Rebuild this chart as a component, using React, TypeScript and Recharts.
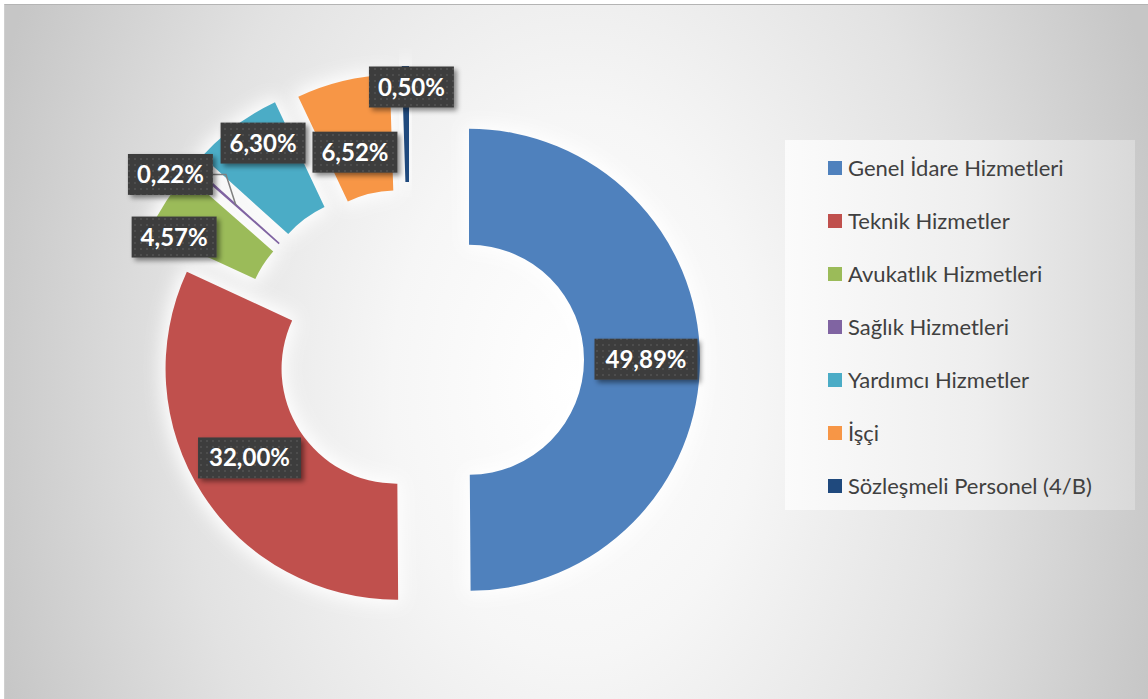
import React from 'react';
import { PieChart, Pie, Cell, Legend, Sector } from 'recharts';

const categories = [
  'Genel İdare Hizmetleri',
  'Teknik Hizmetler',
  'Avukatlık Hizmetleri',
  'Sağlık Hizmetleri',
  'Yardımcı Hizmetler',
  'İşçi',
  'Sözleşmeli Personel (4/B)',
];
const shares = [49.89, 32.0, 4.57, 0.22, 6.3, 6.52, 0.5];

// styling per slice (Excel theme colours, explosion and label placement)
const colors = ['#4F81BD', '#C0504D', '#9BBB59', '#8064A2', '#4BACC6', '#F79646', '#1F497D'];
const explode = [59, 16, 60, 60, 61, 56, 63];
const labelDist = [236, 188, 266, 303, 262, 215, 273];
const labelTurn = [0, 1.4, -5.5, -3.9, 2.5, -1.3, 1.2];
const leaderFor = [3];

const RAD = Math.PI / 180;
const fmt = (v: number) => v.toFixed(2).replace('.', ',') + '%';

const data = categories.map((name, i) => ({ name, value: shares[i] }));

const idxOf = (props: any) => {
  if (typeof props.index === 'number') return props.index;
  const n = props.name ?? props.payload?.name;
  return Math.max(0, categories.indexOf(n));
};

const ExplodedSector = (props: any) => {
  const i = idxOf(props);
  const d = explode[i] ?? 0;
  const a = props.midAngle * RAD;
  return (
    <Sector
      cx={props.cx + d * Math.cos(a)}
      cy={props.cy - d * Math.sin(a)}
      innerRadius={props.innerRadius}
      outerRadius={props.outerRadius}
      startAngle={props.startAngle}
      endAngle={props.endAngle}
      fill={props.fill}
      stroke="none"
    />
  );
};

// white halo drawn under the coloured slices
const GlowSector = (props: any) => {
  const i = idxOf(props);
  const d = explode[i] ?? 0;
  const a = props.midAngle * RAD;
  return (
    <Sector
      cx={props.cx + d * Math.cos(a)}
      cy={props.cy - d * Math.sin(a)}
      innerRadius={props.innerRadius}
      outerRadius={props.outerRadius}
      startAngle={props.startAngle}
      endAngle={props.endAngle}
      fill="#ffffff"
      stroke="none"
      filter="url(#softGlow)"
    />
  );
};

const renderLabel = (props: any) => {
  const { cx, cy, midAngle, innerRadius, outerRadius } = props;
  const i = idxOf(props);
  const a = (midAngle - labelTurn[i]) * RAD;
  const x = cx + labelDist[i] * Math.cos(a);
  const y = cy - labelDist[i] * Math.sin(a);
  const text = fmt(shares[i]);
  const w = text.length * 18 - 5;
  const h = 41;
  let leader = null;
  if (leaderFor.includes(i)) {
    const m = (innerRadius + outerRadius) / 2 + explode[i];
    const ma = midAngle * RAD;
    const tx = cx + m * Math.cos(ma);
    const ty = cy - m * Math.sin(ma);
    const sx = x + w / 2;
    leader = (
      <polyline
        points={`${sx},${y} ${sx + 13},${y} ${tx},${ty}`}
        fill="none"
        stroke="#7f7f7f"
        strokeWidth={1.5}
      />
    );
  }
  return (
    <g key={`lbl-${i}`}>
      {leader}
      <rect x={x - w / 2} y={y - h / 2} width={w} height={h} fill="url(#dotFill)" filter="url(#lblShadow)" />
      <text
        x={x}
        y={y + 8.5}
        textAnchor="middle"
        fill="#ffffff"
        fontSize={24}
        fontWeight={700}
        fontFamily="Lato, 'Open Sans', sans-serif"
      >
        {text}
      </text>
    </g>
  );
};

const renderLegend = ({ payload }: any) => {
  const list = payload || [];
  // one entry per category, in data order (the halo pie adds unnamed duplicates)
  const items = categories
    .map((c) => list.filter((e: any) => e.value === c && e.type !== 'none').pop())
    .filter(Boolean);
  return (
    <div
      style={{
        width: 350,
        height: 370,
        boxSizing: 'border-box',
        paddingLeft: 43,
        paddingTop: 1,
        background: 'linear-gradient(90deg, #fbfbfb 0%, #eeeeee 55%, #d9d9d9 100%)',
      }}
    >
      {items.map((entry: any) => (
        <div key={entry.value} style={{ display: 'flex', alignItems: 'center', height: 53 }}>
          <span style={{ width: 14, height: 14, background: entry.color, marginRight: 6, flexShrink: 0 }} />
          <span
            style={{
              fontSize: 22,
              color: '#404040',
              fontFamily: "Lato, 'Open Sans', sans-serif",
              whiteSpace: 'nowrap',
            }}
          >
            {entry.value}
          </span>
        </div>
      ))}
    </div>
  );
};

export default function App() {
  return (
    <div style={{ position: 'absolute', left: 0, top: 0, width: 1148, height: 699, background: '#ffffff' }}>
      <div
        style={{
          position: 'absolute',
          left: 4,
          top: 4,
          width: 1144,
          height: 695,
          boxSizing: 'border-box',
          borderTop: '1px solid #b4b4b4',
          borderLeft: '1px solid #cfcfcf',
          background:
            'radial-gradient(ellipse 610px 900px at 570px 380px, #ffffff 0%, #f6f6f6 30%, #e2e2e2 65%, #c6c6c6 100%)',
        }}
      />
      <div style={{ position: 'absolute', left: 0, top: 0 }}>
        <PieChart width={1148} height={699} margin={{ top: 0, right: 0, bottom: 0, left: 0 }}>
          <defs>
            <filter id="softGlow" x="-30%" y="-30%" width="160%" height="160%">
              <feMorphology in="SourceGraphic" operator="dilate" radius="4" result="dil" />
              <feGaussianBlur in="dil" stdDeviation="9" />
            </filter>
            <filter id="lblShadow" x="-20%" y="-30%" width="150%" height="170%">
              <feDropShadow dx="3" dy="3" stdDeviation="2.5" floodColor="#000000" floodOpacity="0.45" />
            </filter>
            <pattern id="dotFill" width="6" height="6" patternUnits="userSpaceOnUse">
              <rect width="6" height="6" fill="#3e3e3e" />
              <rect x="2" y="2" width="2" height="2" fill="#4d4d4d" />
            </pattern>
          </defs>
          <Pie
            data={data}
            dataKey="value"
            nameKey="name"
            cx={410}
            cy={360}
            innerRadius={115}
            outerRadius={231}
            startAngle={90}
            endAngle={-270}
            stroke="none"
            legendType="none"
            shape={GlowSector}
            isAnimationActive={false}
          />
          <Pie
            data={data}
            dataKey="value"
            nameKey="name"
            cx={410}
            cy={360}
            innerRadius={115}
            outerRadius={231}
            startAngle={90}
            endAngle={-270}
            stroke="none"
            shape={ExplodedSector}
            label={renderLabel}
            labelLine={false}
            isAnimationActive={false}
          >
            {data.map((d, i) => (
              <Cell key={d.name} fill={colors[i]} />
            ))}
          </Pie>
          <Legend
            layout="vertical"
            align="right"
            verticalAlign="middle"
            content={renderLegend}
            wrapperStyle={{ left: 785, top: 140, width: 350, height: 370 }}
          />
        </PieChart>
      </div>
    </div>
  );
}
